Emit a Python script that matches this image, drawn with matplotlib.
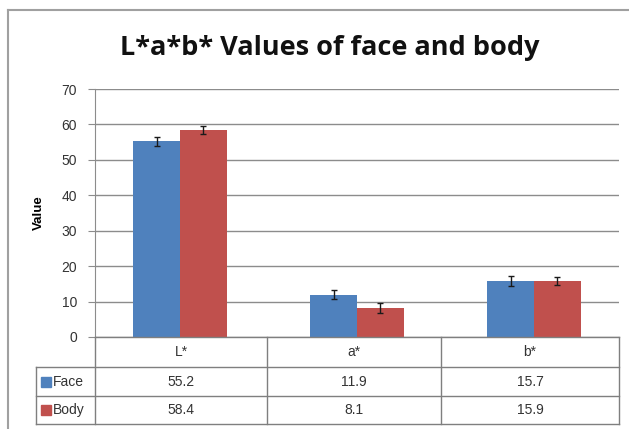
import numpy as np
import matplotlib
matplotlib.use("Agg")
import matplotlib.pyplot as plt
from matplotlib.lines import Line2D
from matplotlib.patches import Rectangle

categories = ["L*", "a*", "b*"]
series_names = ["Face", "Body"]
face_values = [55.2, 11.9, 15.7]
body_values = [58.4, 8.1, 15.9]
face_err = [1.2, 1.3, 1.4]
body_err = [1.2, 1.4, 1.1]
y_ticks = [0, 10, 20, 30, 40, 50, 60, 70]

W, H = 629, 429
BLUE = "#4F81BD"
RED = "#C0504D"
GRID = "#8c8c8c"
FONT = "Liberation Sans"


def fx(px):
    return px / W


def fy(py):
    return 1 - py / H


def main() -> None:
    fig = plt.figure(figsize=(W / 100, H / 100), dpi=100)
    plt.rcParams["font.family"] = FONT

    # outer chart border (cropped at right/bottom)
    fig.add_artist(Line2D([fx(8), fx(8)], [fy(10), 0], color="#a0a0a0", lw=1.5))
    fig.add_artist(Line2D([fx(8), 1], [fy(10), fy(10)], color="#a0a0a0", lw=1.5))

    left, right, top, bottom = 95, 619, 89, 337
    ax = fig.add_axes([fx(left), fy(bottom), fx(right - left), (bottom - top) / H])

    x = np.arange(len(categories))
    bw = 0.265
    ax.bar(x - bw / 2, face_values, bw, color=BLUE, yerr=face_err,
           error_kw=dict(ecolor="#1a1a1a", capsize=2.5, elinewidth=1, capthick=1), zorder=3)
    ax.bar(x + bw / 2, body_values, bw, color=RED, yerr=body_err,
           error_kw=dict(ecolor="#1a1a1a", capsize=2.5, elinewidth=1, capthick=1), zorder=3)

    ax.set_xlim(-0.48, len(categories) - 0.52)
    ax.set_ylim(0, 70)
    ax.set_yticks(y_ticks)
    ax.yaxis.grid(True, color=GRID, lw=1)
    ax.set_axisbelow(True)
    ax.set_xticks([])
    for s in ["top", "right", "bottom"]:
        ax.spines[s].set_visible(False)
    ax.spines["left"].set_color(GRID)
    ax.tick_params(axis="y", length=5, color=GRID, labelsize=10, labelcolor="#333333", pad=8)
    ax.set_ylabel("Value", fontsize=9.5, fontweight="bold", labelpad=12)

    fig.text(0.525, fy(48), "L*a*b* Values of face and body", ha="center", va="center",
             fontsize=19.5, fontweight="bold", family="Open Sans", color="#111111")

    # data table below the plot
    col_edges = [95, 267, 441, 619]
    rows = [337, 367, 396, 424]
    lc = "#7f7f7f"
    fig.add_artist(Line2D([fx(95), fx(619)], [fy(337), fy(337)], color=lc, lw=1))
    for r in rows[1:]:
        fig.add_artist(Line2D([fx(36), fx(619)], [fy(r), fy(r)], color=lc, lw=1))
    for c in col_edges:
        fig.add_artist(Line2D([fx(c), fx(c)], [fy(337), fy(424)], color=lc, lw=1))
    fig.add_artist(Line2D([fx(36), fx(36)], [fy(367), fy(424)], color=lc, lw=1))

    centers = [(col_edges[i] + col_edges[i + 1]) / 2 for i in range(3)]
    for c, cat in zip(centers, categories):
        fig.text(fx(c), fy(352), cat, ha="center", va="center", fontsize=10, color="#333333")
    for ri, (name, vals, col) in enumerate(zip(series_names, [face_values, body_values], [BLUE, RED])):
        yc = (rows[ri + 1] + rows[ri + 2]) / 2
        fig.add_artist(Rectangle((fx(41), fy(yc + 5)), fx(10), 10 / H, color=col))
        fig.text(fx(53), fy(yc), name, ha="left", va="center", fontsize=10, color="#333333")
        for c, v in zip(centers, vals):
            fig.text(fx(c), fy(yc), f"{v}", ha="center", va="center", fontsize=10, color="#333333")

    fig.savefig("out.png", dpi=100)


if __name__ == "__main__":
    main()
